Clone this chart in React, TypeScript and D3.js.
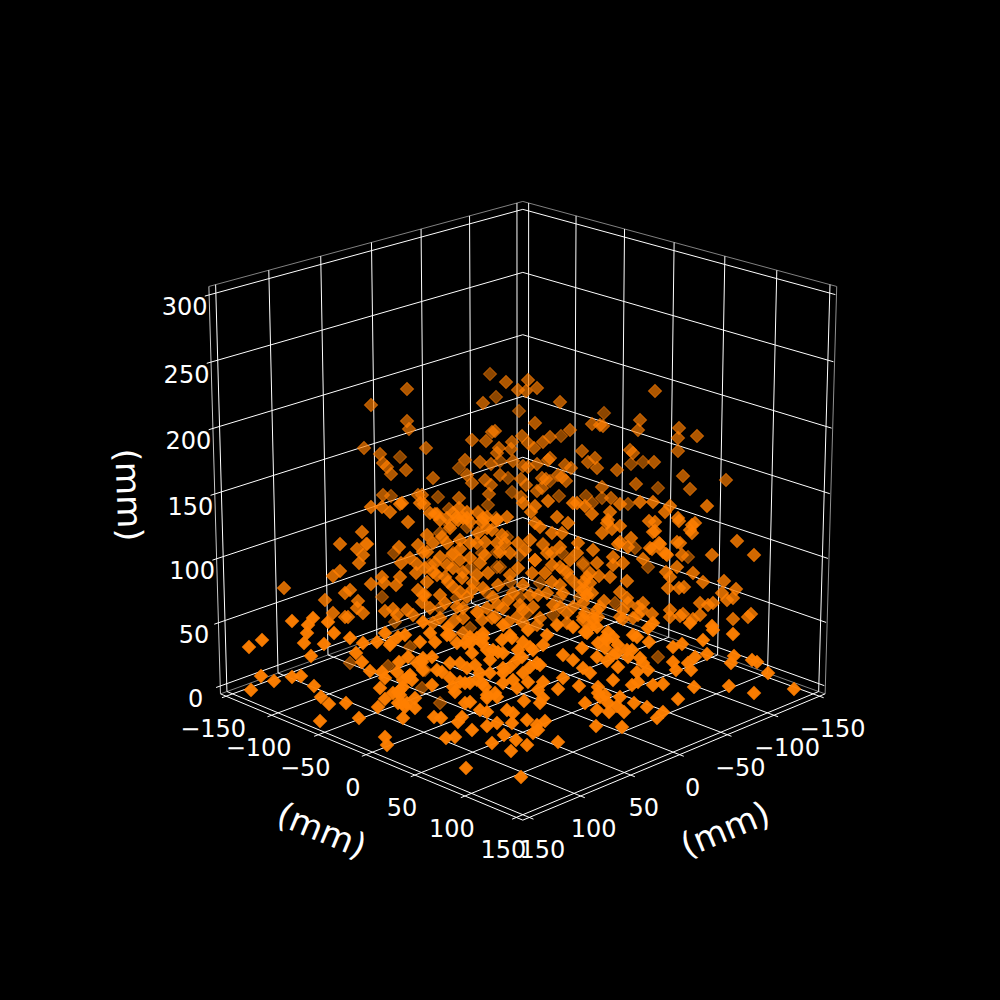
import React from "react";
import * as d3 from "d3";

// Axis ticks (mm)
const xTicks = [-150, -100, -50, 0, 50, 100, 150];
const yTicks = [-150, -100, -50, 0, 50, 100, 150];
const zTicks = [0, 50, 100, 150, 200, 250, 300];
const axisLabel = "(mm)";

// Cloud as [across, up] in the view plane, grouped by depth shading.
const pointsFar: number[][] = [[-123,237],[-132,198],[-157,150],[-129,141],[-33,320],[-27,297],[-4,283],[38,258],[-64,226],[-23,233],[-15,216],[27,213],[-11,202],[36,198],[-85,197],[-35,189],[63,198],[69,191],[-74,185],[-45,182],[-27,176],[81,281],[108,230],[120,232],[135,206],[79,196],[105,190],[-141,97],[-128,72],[-173,31],[-135,28],[-113,47],[20,150],[60,129],[-26,127],[-60,76],[-53,66],[112,146],[165,137],[125,127],[92,91],[135,37],[-101,6],[-83,-9],[-98,24],[-45,181],[-26,174],[-73,169],[-56,167],[-83,161],[-16,157],[-26,142],[-3,139],[12,134],[20,149],[60,131],[39,141],[-23,127],[-70,141],[-93,129],[-41,141],[-53,126],[-13,112],[17,111],[40,124],[-66,96],[-36,101],[-3,97],[37,97],[57,97],[-45,81],[-83,86],[4,81],[30,79],[-60,76]];
const pointsUpper: number[][] = [[-116,305],[-152,289],[-116,273],[-114,265],[-159,246],[-143,240],[-140,231],[-136,227],[-117,224],[-132,220],[-140,199],[-105,199],[-17,312],[5,314],[-5,304],[3,303],[14,306],[-40,291],[37,292],[12,271],[69,270],[77,269],[47,264],[27,257],[20,252],[-28,263],[-31,262],[-37,253],[-51,254],[-97,246],[-1,258],[5,251],[11,246],[-11,252],[-12,245],[-24,246],[-26,241],[59,243],[72,236],[65,232],[74,226],[27,236],[25,234],[42,229],[48,226],[-58,234],[-43,232],[-32,230],[-10,233],[0,228],[5,227],[14,230],[-56,219],[-23,219],[-2,215],[3,209],[-90,216],[-51,211],[-38,214],[-32,209],[19,216],[23,215],[35,219],[39,217],[43,213],[14,203],[19,206],[-34,200],[-101,199],[-64,196],[-2,197],[132,303],[117,274],[80,268],[156,266],[115,264],[174,258],[155,256],[107,244],[110,241],[155,243],[131,232],[94,224],[160,218],[203,214],[113,210],[167,205],[79,207],[88,196]];
const pointsMiddle: number[][] = [[-121,191],[-123,190],[-152,187],[-141,187],[-133,182],[-115,172],[-161,162],[-183,150],[-166,145],[-124,147],[-160,139],[-105,149],[-113,136],[-103,191],[-99,190],[0,191],[25,193],[50,191],[54,191],[62,188],[-64,186],[-56,182],[12,188],[8,182],[-88,180],[-86,180],[-16,177],[34,177],[69,180],[-66,177],[-76,176],[-40,176],[-56,176],[97,190],[117,192],[130,192],[147,188],[142,182],[184,188],[87,182],[155,176],[156,173],[126,173],[132,172],[172,171],[169,169],[167,164],[169,161],[85,174],[84,171],[97,168],[89,165],[79,161],[132,163],[130,162],[108,156],[97,152],[105,147],[136,151],[154,152],[157,151],[127,146],[129,145],[214,153],[189,139],[231,139],[140,142],[144,139],[90,137],[159,139],[120,135],[-156,150],[-164,131],[-183,123],[-190,118],[-122,131],[-106,130],[-96,142],[-107,121],[-98,126],[-239,106],[-141,117],[-152,110],[-139,111],[-123,117],[-127,109],[-178,101],[-173,104],[-198,94],[-165,93],[-166,86],[-160,81],[-190,81],[-178,77],[-175,77],[-138,83],[-130,85],[-126,79],[-116,84],[-110,79],[-105,104],[-100,99],[-101,92],[-70,181],[-60,176],[-41,172],[-26,174],[12,171],[45,171],[-73,166],[-81,157],[-96,159],[-36,166],[-46,151],[-21,159],[-18,151],[29,161],[39,161],[55,151],[-63,145],[-71,139],[-23,142],[2,144],[-5,151],[-38,139],[12,134],[29,141],[47,134],[-88,131],[-70,126],[-43,131],[29,129],[-86,119],[-60,122],[-5,126],[44,122],[22,121],[-13,119],[-25,109],[-96,112],[-70,107],[-50,111],[29,112],[54,109],[0,109],[15,99],[40,101],[-83,99],[-56,97],[-30,97],[-10,101],[60,91],[30,89],[-93,86],[-66,87],[-3,89],[10,87],[-46,82],[-20,86],[44,81],[-83,76],[17,76],[-6,77],[-31,76],[60,74],[70,144],[95,150],[137,150],[143,140],[74,131],[90,129],[100,131],[154,127],[143,122],[170,121],[180,112],[201,113],[67,121],[76,118],[87,117],[104,113],[147,117],[145,106],[156,106],[161,107],[199,101],[213,105],[210,96],[204,94],[61,112],[59,104],[64,99],[97,102],[104,96],[81,93],[74,84],[75,77],[70,74],[100,84],[115,87],[119,84],[120,91],[105,91],[177,91],[185,89],[190,91],[147,84],[160,80],[157,78],[177,79],[170,75],[147,77],[210,75],[228,80],[225,77],[129,80],[100,75],[110,76],[115,79],[-93,181],[-83,174],[-65,174],[-53,172],[-36,177],[-31,164],[-45,161],[-38,152],[-53,151],[-63,154],[-76,151],[-90,151],[-100,142],[-83,137],[-76,129],[-63,134],[-53,136],[-90,122],[-78,117],[-61,116],[-46,119],[-35,121],[-98,99],[-75,112],[-63,102],[-51,104],[-40,106],[-78,91],[-60,86],[-36,86],[-25,89],[-15,94],[7,99],[24,101],[37,109],[47,116],[64,117],[37,87],[50,87],[0,84],[-15,72],[-28,77],[-41,74],[-68,74],[-90,71],[-60,61],[0,71],[14,69],[44,71],[62,81],[17,167],[7,154],[37,147],[54,141],[24,141],[9,121],[37,127],[64,99],[-13,141],[-26,151],[67,111],[62,104],[69,101],[77,87],[70,77],[60,77],[97,77]];
const pointsLower: number[][] = [[-231,73],[-210,76],[-215,69],[-195,72],[-216,61],[-189,61],[-261,54],[-274,47],[-219,51],[-199,50],[-173,56],[-160,51],[-146,52],[-138,61],[-132,51],[-125,57],[-118,59],[-212,38],[-167,41],[-161,32],[-153,23],[-124,32],[-115,37],[-103,52],[-100,72],[-106,31],[-100,36],[-100,24],[-126,22],[-141,22],[-138,16],[-262,18],[-249,13],[-231,17],[-222,18],[-272,4],[-209,8],[-202,-3],[-194,-10],[-177,-9],[-143,6],[-138,-5],[-145,-13],[-115,17],[-111,14],[-123,4],[-130,1],[-121,-9],[-108,-4],[-75,67],[-20,69],[5,64],[34,69],[50,67],[-40,61],[24,59],[-93,61],[-13,59],[-73,59],[125,66],[130,71],[167,71],[189,68],[190,64],[210,60],[110,59],[114,57],[85,62],[64,61],[74,67],[180,54],[159,50],[150,47],[126,52],[84,54],[90,57],[75,51],[95,49],[82,46],[104,44],[109,44],[184,40],[172,37],[211,38],[208,31],[229,34],[234,32],[245,21],[150,32],[165,31],[117,36],[94,41],[74,37],[84,33],[105,37],[120,31],[95,27],[125,24],[153,24],[168,24],[114,22],[67,21],[60,26],[90,14],[115,12],[109,9],[130,9],[140,10],[171,7],[206,8],[271,5],[231,1],[155,-5],[77,-3],[62,-9],[97,-3],[111,-9],[124,-13],[85,-9],[-138,-43],[-136,-51],[-57,-74],[-2,-83],[-120,-24],[-118,-13],[-125,-9],[-108,-14],[-120,14],[-125,2],[-91,9],[-89,-23],[-82,-24],[-77,-44],[-68,-43],[-31,-49],[-12,-57],[4,-51],[-7,-46],[-19,-41],[-26,-29],[-36,-32],[-51,-36],[-61,-23],[-65,-28],[-43,-16],[-36,-18],[-16,-16],[-10,-19],[-11,-29],[4,-26],[-58,-9],[-53,-8],[-68,2],[-81,22],[-73,31],[-63,31],[-48,29],[-73,16],[-63,12],[-53,11],[-41,11],[-33,21],[-20,26],[-36,-1],[-28,1],[-20,11],[-6,6],[1,-7],[-88,52],[-76,59],[-133,49],[-58,51],[-46,56],[-41,51],[-36,44],[-51,41],[-25,42],[-11,56],[-5,44],[7,47],[14,31],[5,12],[-13,27],[-91,37],[-101,32],[10,-39],[14,-31],[15,4],[35,-48],[15,-36],[22,-27],[73,-32],[99,-33],[134,-24],[140,-18],[101,-18],[94,-12],[86,-18],[74,-16],[75,1],[82,-1],[56,8],[35,5],[20,-4],[17,-9],[20,12],[40,16],[17,29],[50,34],[40,39],[20,49],[59,46],[82,56],[75,7],[-203,-27],[-164,-24],[-70,7],[-58,11],[-46,14],[-38,7],[-26,-3],[-36,-4],[-56,26],[-43,21],[-20,21],[-10,14],[0,21],[7,27],[-6,34],[-20,41],[-33,34],[-53,51],[-86,24],[-116,-9],[-123,-1],[-113,19],[-120,7],[67,67],[62,62],[90,39],[-66,51],[-53,57],[-40,56],[-30,44],[-21,54],[0,52],[10,44],[-1,37]];

const bands = [
  { points: pointsFar, fill: 0.55, edge: 0.5 },
  { points: pointsUpper, fill: 0.68, edge: 0.6 },
  { points: pointsMiddle, fill: 0.82, edge: 0.7 },
  { points: pointsLower, fill: 0.97, edge: 0.8 },
];

// Projection with a perspective camera (elevation 20, azimuth 45)
const margin = 300 / 48;
const xLim = [-150 - margin, 150 + margin];
const yLim = [-150 - margin, 150 + margin];
const zLim = [0 - margin, 300 + margin];
const half = 0.55;
const toBox = {
  x: d3.scaleLinear().domain(xLim).range([-half, half]),
  y: d3.scaleLinear().domain(yLim).range([-half, half]),
  z: d3.scaleLinear().domain(zLim).range([-half, half]),
};
const elev = (20 * Math.PI) / 180;
const dist = 10;
const screenX = d3.scaleLinear().domain([-0.1, 0.1]).range([522.8 - 396, 522.8 + 396]);
const screenY = d3.scaleLinear().domain([-0.1, 0.1]).range([494 + 394, 494 - 394]);
function project(x: number, y: number, z: number): [number, number] {
  const bx = toBox.x(x), by = toBox.y(y), bz = toBox.z(z);
  const lateral = (by - bx) / Math.SQRT2;
  const forward = (bx + by) / Math.SQRT2;
  const cy = bz * Math.cos(elev) - forward * Math.sin(elev);
  const depth = dist - (forward * Math.cos(elev) + bz * Math.sin(elev));
  return [screenX(lateral / depth), screenY(cy / depth)];
}

const pointX = d3.scaleLinear().domain([-300, 300]).range([223, 823]);
const pointY = d3.scaleLinear().domain([0, 400]).range([694, 294]);
const diamond = d3.symbol().type(d3.symbolSquare).size(88)();

const fontFamily = "'DejaVu Sans', sans-serif";
const minus = (v: number) => (v < 0 ? "\u2212" + Math.abs(v) : String(v));

type Seg = { a: [number, number, number]; b: [number, number, number]; stroke: string; w: number };

function segments(): Seg[] {
  const [x0, x1] = xLim, [y0, y1] = yLim, [z0, z1] = zLim;
  const out: Seg[] = [];
  const grid = (a: Seg["a"], b: Seg["b"]) => out.push({ a, b, stroke: "#fff", w: 1 });
  const pane = (a: Seg["a"], b: Seg["b"], s = "#808080") => out.push({ a, b, stroke: s, w: 1 });
  const tickLen = 4;
  // pane outlines
  pane([x1, y0, z1], [x0, y0, z1]);
  pane([x0, y0, z1], [x0, y1, z1]);
  pane([x1, y0, z0], [x1, y0, z1], "#c8c8c8");
  pane([x0, y1, z0], [x0, y1, z1], "#909090");
  pane([x1, y0, z0], [x0, y0, z0]);
  pane([x0, y0, z0], [x0, y1, z0]);
  // axis lines
  pane([x1, y0, z0], [x1, y1, z0], "#fff");
  pane([x0, y1, z0], [x1, y1, z0], "#fff");
  xTicks.forEach((t) => {
    grid([t, y0, z0], [t, y1 + tickLen, z0]);
    grid([t, y0, z0], [t, y0, z1]);
  });
  yTicks.forEach((t) => {
    grid([x0, t, z0], [x1 + tickLen, t, z0]);
    grid([x0, t, z0], [x0, t, z1]);
  });
  zTicks.forEach((t) => {
    grid([x1 + tickLen, y0, t], [x0, y0, t]);
    grid([x0, y0, t], [x0, y1 - 1, t]);
  });
  return out;
}

export default function App() {
  const segs = segments();
  const [, x1] = xLim, [y0, y1] = yLim, [z0] = zLim;
  return (
    <svg width={1000} height={1000} style={{ position: "absolute", left: 0, top: 0, background: "#000" }} fontFamily={fontFamily}>
      <rect width={1000} height={1000} fill="#000" />
      {segs.map((s, i) => {
        const [ax, ay] = project(...s.a);
        const [bx, by] = project(...s.b);
        return <line key={i} x1={ax} y1={ay} x2={bx} y2={by} stroke={s.stroke} strokeWidth={s.w} />;
      })}
      {bands.map((band, bi) => (
        <g key={bi}>
          {band.points.map(([a, u], i) => (
            <path
              key={i}
              d={diamond as string}
              transform={`translate(${pointX(a)},${pointY(u)}) rotate(45)`}
              fill="#ff7f00"
              fillOpacity={band.fill}
              stroke="#ff7f00"
              strokeOpacity={band.edge}
              strokeWidth={1}
            />
          ))}
        </g>
      ))}
      <g fill="#fff" fontSize={24} textAnchor="middle" dominantBaseline="central">
        {zTicks.map((t) => {
          const [px, py] = project(x1, y0, t);
          return <text key={"z" + t} x={px - 24.5} y={py + 12.5}>{t}</text>;
        })}
        {yTicks.map((t) => {
          const [px, py] = project(x1, t, z0);
          return <text key={"y" + t} x={px - 13} y={py + 33}>{minus(t)}</text>;
        })}
        {xTicks.map((t) => {
          const [px, py] = project(t, y1, z0);
          return <text key={"x" + t} x={px + 13} y={py + 33}>{minus(t)}</text>;
        })}
      </g>
      <g fill="#fff" fontSize={34} textAnchor="middle" dominantBaseline="central">
        <text transform="translate(322,830) rotate(22.5)">{axisLabel}</text>
        <text transform="translate(725,829) rotate(-22.5)">{axisLabel}</text>
        <text transform="translate(129,495) rotate(88)">{axisLabel}</text>
      </g>
    </svg>
  );
}
